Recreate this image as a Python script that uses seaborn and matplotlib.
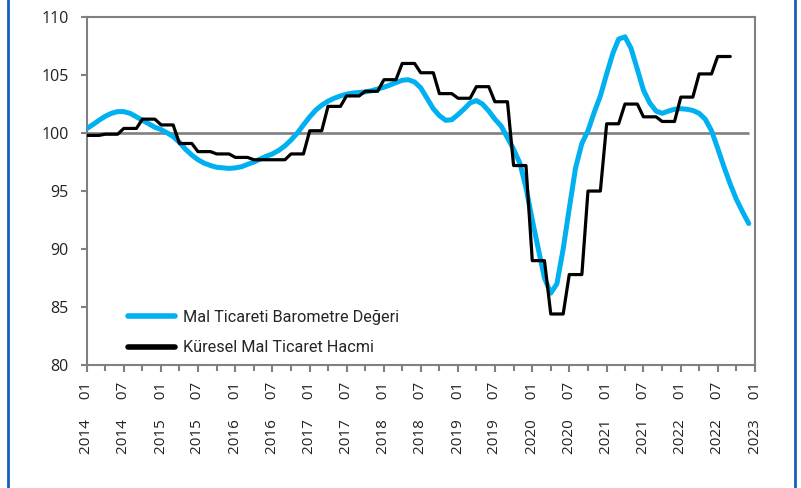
import numpy as np
import pandas as pd
import matplotlib
matplotlib.use('Agg')
import matplotlib.pyplot as plt
import matplotlib.dates as mdates
from matplotlib.lines import Line2D
import seaborn as sns

# Monthly dates, 2014-01 .. 2022-12
months = pd.date_range('2014-01-01', periods=108, freq='MS')

# Mal Ticareti Barometre Degeri (monthly)
barometer = [
    100.4, 100.75, 101.1, 101.45, 101.7, 101.85, 101.85, 101.7, 101.4, 101.1, 100.8, 100.5,
    100.3, 100.0, 99.7, 99.2, 98.6, 98.1, 97.7, 97.4, 97.2, 97.05, 97.0, 96.95,
    97.0, 97.1, 97.3, 97.5, 97.75, 98.0, 98.2, 98.5, 98.9, 99.4, 100.0, 100.7,
    101.4, 102.0, 102.4, 102.75, 103.0, 103.2, 103.35, 103.45, 103.5, 103.55, 103.65, 103.8,
    103.95, 104.15, 104.35, 104.55, 104.6, 104.4, 103.9, 103.0, 102.1, 101.5, 101.1, 101.15,
    101.6, 102.1, 102.6, 102.8, 102.5, 101.9, 101.2, 100.6, 99.6, 98.6, 97.4, 95.3,
    92.5, 89.9, 87.5, 86.2, 87.0, 90.0, 93.5, 97.0, 99.1, 100.2, 101.8, 103.2,
    105.1, 106.9, 108.1, 108.3, 107.3, 105.5, 103.7, 102.6, 101.9, 101.7, 101.9, 102.05,
    102.1, 102.05, 101.95, 101.7, 101.2, 100.2, 98.7, 97.1, 95.6, 94.3, 93.2, 92.2,
]

# Kuresel Mal Ticaret Hacmi (quarterly, 2014Q1 .. 2022Q3)
volume_q = [
    99.8, 99.9, 100.4, 101.2,
    100.7, 99.1, 98.4, 98.2,
    97.9, 97.7, 97.7, 98.2,
    100.2, 102.3, 103.2, 103.6,
    104.6, 106.0, 105.2, 103.4,
    103.0, 104.0, 102.7, 97.2,
    89.0, 84.4, 87.8, 95.0,
    100.8, 102.5, 101.4, 101.0,
    103.1, 105.1, 106.6,
]
volume = np.repeat(volume_q, 3)

sns.set_style('white')
plt.rcParams['font.family'] = ['Open Sans', 'DejaVu Sans']

fig = plt.figure(figsize=(8.01, 4.88), dpi=100)
ax = fig.add_axes([0.1086, 0.252, 0.834, 0.713])

ax.hlines(100, months[0], months[-1], color='#808080', lw=1.9, zorder=1)
sns.lineplot(x=months, y=barometer, ax=ax, color='#00B0F0', lw=3.6,
             label='Mal Ticareti Barometre Değeri', zorder=3)
sns.lineplot(x=months[:len(volume)], y=volume, ax=ax, color='black', lw=2.3,
             label='Küresel Mal Ticaret Hacmi', zorder=4)

ax.set_xlim(pd.Timestamp('2014-01-01'), pd.Timestamp('2023-01-01'))
ax.set_ylim(80, 110)
ax.set_yticks([80, 85, 90, 95, 100, 105, 110])

ax.xaxis.set_major_locator(mdates.MonthLocator(bymonth=[1, 7]))
ax.xaxis.set_minor_locator(mdates.MonthLocator(bymonth=[4, 10]))
ax.xaxis.set_major_formatter(mdates.DateFormatter('%Y     %m'))
plt.setp(ax.get_xticklabels(), rotation=90, ha='center', va='top')

for s in ax.spines.values():
    s.set_color('#808080')
    s.set_linewidth(1.5)

ax.tick_params(axis='x', which='both', direction='out', bottom=True, color='#808080',
               width=1.5, labelsize=11, pad=7, labelcolor='#222222')
ax.tick_params(axis='x', which='major', length=5)
ax.tick_params(axis='x', which='minor', length=4)
ax.tick_params(axis='y', direction='out', left=True, color='#808080', width=1.5,
               length=4, labelsize=11.5, pad=9, labelcolor='#222222')
ax.set_xlabel('')
ax.set_ylabel('')

leg = ax.legend(loc='lower left', bbox_to_anchor=(0.04, -0.014), frameon=False,
                prop={'family': ['Roboto', 'Open Sans'], 'size': 11.7},
                handlelength=2.9, handletextpad=0.45, labelspacing=0.95)
for h in leg.get_lines():
    h.set_linewidth(4)

# blue frame lines on the sides
fig.add_artist(Line2D([0.0094, 0.0094], [0, 1], transform=fig.transFigure, color='#1560BD', lw=2))
fig.add_artist(Line2D([0.9925, 0.9925], [0, 1], transform=fig.transFigure, color='#1560BD', lw=2))

fig.savefig('out.png', dpi=100)
